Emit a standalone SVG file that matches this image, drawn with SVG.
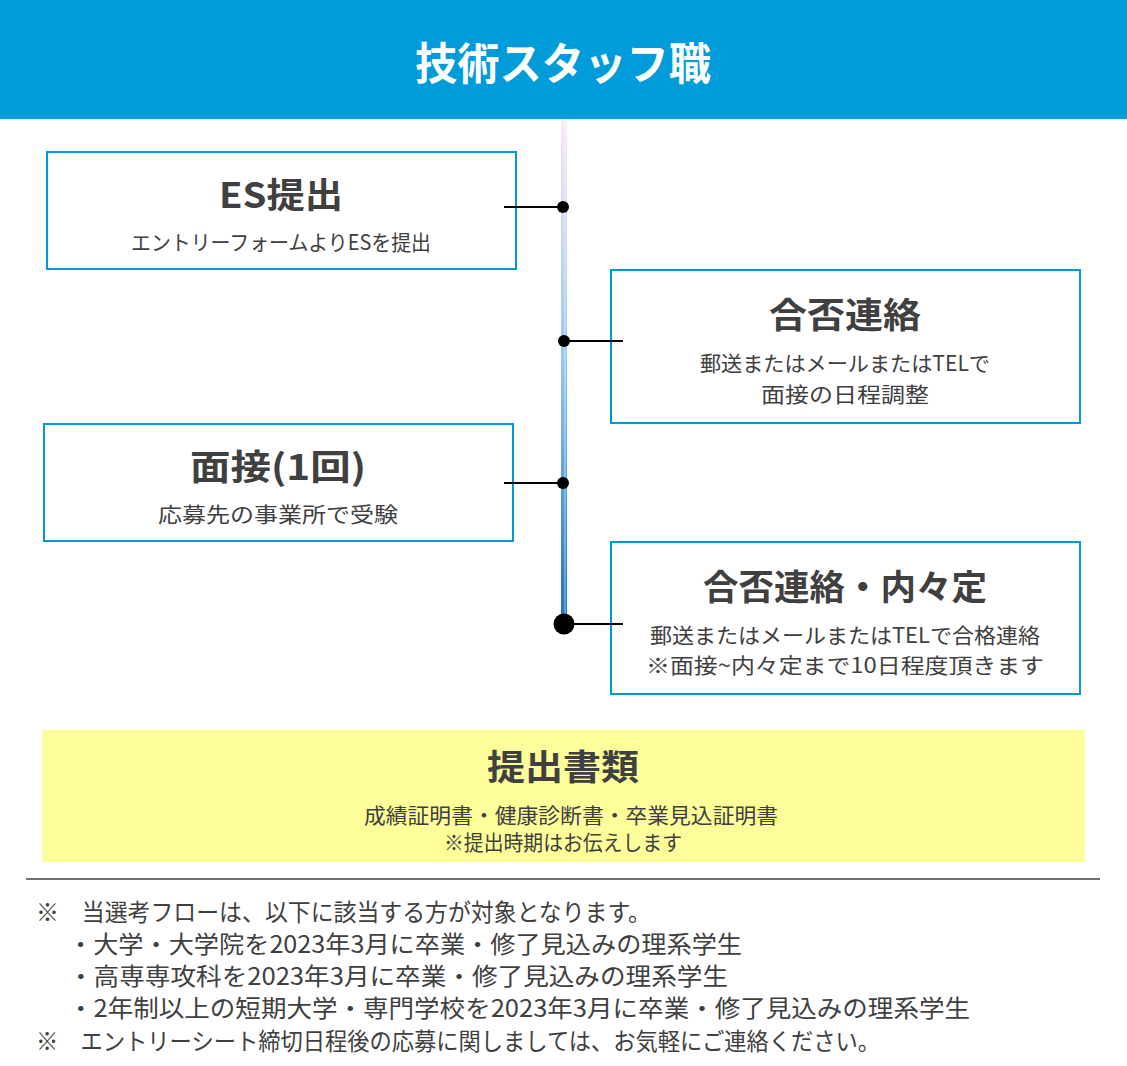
<svg xmlns="http://www.w3.org/2000/svg" width="1127" height="1066" viewBox="0 0 1127 1066">
<defs>
<linearGradient id="tl" x1="0" y1="0" x2="0" y2="1">
<stop offset="0" stop-color="#fbe8f4"/>
<stop offset="0.5" stop-color="#90c4f5"/>
<stop offset="1" stop-color="#1a6fc4"/>
</linearGradient>
<style>
text{font-family:"Noto Sans CJK JP","Noto Sans",sans-serif;fill:#404040}
.box{fill:#fff;stroke:#0099d6;stroke-width:2}
.t{font-size:35px;font-weight:bold;text-anchor:middle}
.s{font-size:21px;text-anchor:middle}
.n{font-size:24px}
.c{stroke:#000;stroke-width:2}
</style>
</defs>
<rect width="1127" height="1066" fill="#fff"/>
<g id="header">
<rect x="0" y="0" width="1127" height="119" fill="#009cd9"/>
<text x="563" y="80" font-size="44" font-weight="bold" text-anchor="middle" style="fill:#fff" textLength="296" lengthAdjust="spacingAndGlyphs">技術スタッフ職</text>
</g>
<g id="n1"><rect class="box" x="47" y="152" width="469" height="117"/>
<text class="t" x="281" y="208" textLength="124" lengthAdjust="spacingAndGlyphs">ES提出</text>
<text class="s" x="281" y="250" textLength="300" lengthAdjust="spacingAndGlyphs">エントリーフォームよりESを提出</text></g>
<g id="n2"><rect class="box" x="611" y="270" width="469" height="153"/>
<text class="t" x="845" y="328" textLength="152" lengthAdjust="spacingAndGlyphs">合否連絡</text>
<text class="s" x="845" y="371" textLength="290" lengthAdjust="spacingAndGlyphs">郵送またはメールまたはTELで</text>
<text class="s" x="845" y="402" textLength="168" lengthAdjust="spacingAndGlyphs">面接の日程調整</text></g>
<g id="n3"><rect class="box" x="44" y="424" width="469" height="117"/>
<text class="t" x="278" y="480" textLength="176" lengthAdjust="spacingAndGlyphs">面接(1回)</text>
<text class="s" x="278" y="522" textLength="240" lengthAdjust="spacingAndGlyphs">応募先の事業所で受験</text></g>
<g id="n4"><rect class="box" x="611" y="542" width="469" height="152"/>
<text class="t" x="845" y="600" textLength="284" lengthAdjust="spacingAndGlyphs">合否連絡・内々定</text>
<text class="s" x="845" y="643" textLength="390" lengthAdjust="spacingAndGlyphs">郵送またはメールまたはTELで合格連絡</text>
<text class="s" x="845" y="673" textLength="398" lengthAdjust="spacingAndGlyphs">※面接~内々定まで10日程度頂きます</text></g>
<g id="docs"><rect x="42" y="730" width="1043" height="132" fill="#fdfd9a"/>
<text class="t" x="563" y="780" textLength="152" lengthAdjust="spacingAndGlyphs">提出書類</text>
<text class="s" x="571" y="823" textLength="414" lengthAdjust="spacingAndGlyphs">成績証明書・健康診断書・卒業見込証明書</text>
<text class="s" x="563" y="850" textLength="238" lengthAdjust="spacingAndGlyphs">※提出時期はお伝えします</text></g>
<line x1="26" y1="879" x2="1100" y2="879" stroke="#404040" stroke-width="1.5"/>
<g id="notes">
<text class="n" x="36" y="921" textLength="615" lengthAdjust="spacingAndGlyphs">※　当選考フローは、以下に該当する方が対象となります。</text>
<text class="n" x="68" y="953" textLength="674" lengthAdjust="spacingAndGlyphs">・大学・大学院を2023年3月に卒業・修了見込みの理系学生</text>
<text class="n" x="68" y="985" textLength="660" lengthAdjust="spacingAndGlyphs">・高専専攻科を2023年3月に卒業・修了見込みの理系学生</text>
<text class="n" x="68" y="1017" textLength="902" lengthAdjust="spacingAndGlyphs">・2年制以上の短期大学・専門学校を2023年3月に卒業・修了見込みの理系学生</text>
<text class="n" x="36" y="1050" textLength="844" lengthAdjust="spacingAndGlyphs">※　エントリーシート締切日程後の応募に関しましては、お気軽にご連絡ください。</text>
</g>
<g id="connectors">
<rect x="561" y="120" width="6" height="504" fill="url(#tl)"/>
<line x1="565" y1="120" x2="565" y2="624" stroke="#fff" stroke-width="1" opacity="0.6"/>
<line class="c" x1="504" y1="207" x2="563" y2="207"/>
<circle cx="563" cy="207" r="6"/>
<line class="c" x1="564" y1="341" x2="623" y2="341"/>
<circle cx="564" cy="341" r="6"/>
<line class="c" x1="504" y1="483" x2="563" y2="483"/>
<circle cx="563" cy="483" r="6"/>
<line class="c" x1="564" y1="624" x2="623" y2="624"/>
<circle cx="564" cy="624" r="10.5"/>
</g>
</svg>
